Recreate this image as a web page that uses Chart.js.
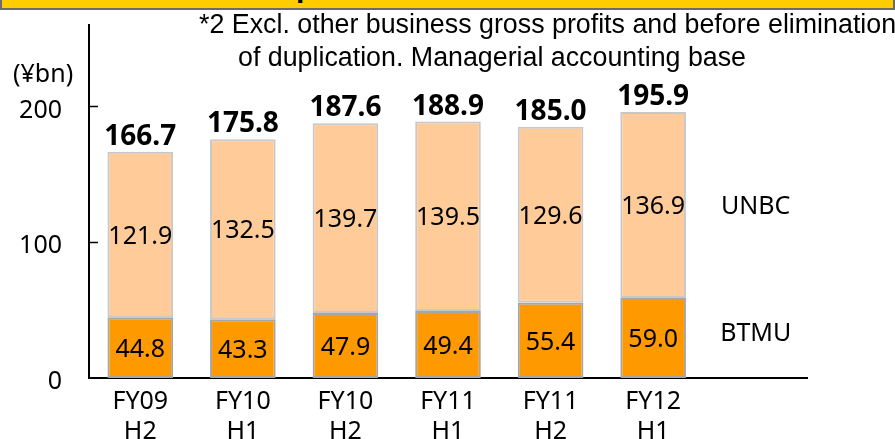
<!DOCTYPE html>
<html>
<head>
<meta charset="utf-8">
<script src="https://cdn.jsdelivr.net/npm/chart.js@4"></script>
<style>
    html, body { margin: 0; padding: 0; background: #fff; }
    #wrap { position: relative; width: 895px; height: 439px; overflow: hidden; }
    #header {
        position: absolute; left: 0; top: 0; width: 891px; height: 8px;
        background: #FFCC00; border: 2px solid #6b6b6b; border-top: none;
        overflow: hidden;
    }
    #header span {
        position: absolute; left: 294px; top: -28px;
        font: bold 30px "Liberation Sans", sans-serif; line-height: 30px; color: #000;
    }
    .note {
        position: absolute; font-family: "Liberation Sans", sans-serif; font-size: 26.8px;
        color: #000; white-space: nowrap; line-height: 32px;
    }
    #unit {
        position: absolute; left: 13px; top: 55px;
        font: 25px "Noto Sans", sans-serif; color: #000;
    }
</style>
</head>
<body>
<div id="wrap">
    <canvas id="chart" width="895" height="439"></canvas>
    <div id="header"><span>p</span></div>
    <div class="note" style="left:199px; top:8px;">*2 Excl. other business gross profits and before elimination</div>
    <div class="note" style="left:238px; top:41px;">of duplication. Managerial accounting base</div>
    <div id="unit">(¥bn)</div>
</div>
<script>
// data
const periods = [['FY09', 'H2'], ['FY10', 'H1'], ['FY10', 'H2'], ['FY11', 'H1'], ['FY11', 'H2'], ['FY12', 'H1'], ['']];
const btmu = [44.8, 43.3, 47.9, 49.4, 55.4, 59.0, null];
const unbc = [121.9, 132.5, 139.7, 139.5, 129.6, 136.9, null];
const totals = [166.7, 175.8, 187.6, 188.9, 185.0, 195.9];
const yTicks = [0, 100, 200];
const seriesNames = ['BTMU', 'UNBC'];

const FONT = '"Noto Sans", sans-serif';

// value labels, totals, series names and inward ticks
const labelPlugin = {
    id: 'labelPlugin',
    afterDatasetsDraw(chart) {
        const ctx = chart.ctx;
        const xScale = chart.scales.x;
        const yScale = chart.scales.y;
        ctx.save();
        ctx.fillStyle = '#000';
        ctx.textAlign = 'center';
        ctx.textBaseline = 'middle';
        ctx.font = '25px ' + FONT;
        chart.data.datasets.forEach((ds, i) => {
            const meta = chart.getDatasetMeta(i);
            meta.data.forEach((bar, j) => {
                if (ds.data[j] == null) return;
                ctx.fillText(ds.data[j].toFixed(1), bar.x, (bar.y + bar.base) / 2 + 2);
            });
        });

        // totals on top
        ctx.font = 'bold 28px ' + FONT;
        ctx.textBaseline = 'alphabetic';
        const topMeta = chart.getDatasetMeta(1);
        totals.forEach((t, j) => {
            const bar = topMeta.data[j];
            ctx.fillText(t.toFixed(1), bar.x, bar.y - 7);
        });

        // series names at the empty last category
        ctx.font = '25px ' + FONT;
        ctx.textBaseline = 'middle';
        const last = totals.length - 1;
        const nameX = xScale.getPixelForValue(periods.length - 1);
        const midBtmu = yScale.getPixelForValue(btmu[last] / 2);
        const midUnbc = yScale.getPixelForValue(btmu[last] + unbc[last] / 2);
        ctx.fillText(seriesNames[1], nameX, midUnbc + 2);
        ctx.fillText(seriesNames[0], nameX, midBtmu - 4);

        // short ticks pointing into the plot
        ctx.strokeStyle = '#000';
        ctx.lineWidth = 1.5;
        yTicks.forEach(v => {
            if (v === 0) return;
            const y = Math.round(yScale.getPixelForValue(v)) + 0.5;
            ctx.beginPath();
            ctx.moveTo(chart.chartArea.left, y);
            ctx.lineTo(chart.chartArea.left + 9, y);
            ctx.stroke();
        });
        ctx.restore();
    }
};

new Chart(document.getElementById('chart'), {
    type: 'bar',
    data: {
        labels: periods,
        datasets: [{
            label: seriesNames[0],
            data: btmu,
            backgroundColor: '#FF9900',
            borderColor: '#A6A6A6',
            borderWidth: 2,
            borderSkipped: false
        }, {
            label: seriesNames[1],
            data: unbc,
            backgroundColor: '#FFCC99',
            borderColor: '#C8C8C8',
            borderWidth: 2,
            borderSkipped: false
        }]
    },
    options: {
        responsive: false,
        animation: false,
        events: [],
        datasets: {
            bar: { categoryPercentage: 1, barPercentage: 0.64 }
        },
        layout: { padding: { left: 0, right: 88, top: 25, bottom: 0 } },
        plugins: {
            legend: { display: false },
            tooltip: { enabled: false }
        },
        scales: {
            x: {
                stacked: true,
                grid: { display: false, drawTicks: false },
                border: { display: true, color: '#000', width: 2 },
                ticks: {
                    color: '#000',
                    padding: 9,
                    maxRotation: 0,
                    autoSkip: false,
                    font: { family: FONT, size: 25, lineHeight: 1.2 }
                },
                afterFit(scale) {
                    scale.height = 61;
                    scale.paddingLeft = 0;
                    scale.paddingRight = 0;
                }
            },
            y: {
                stacked: true,
                min: 0,
                max: 260,
                grid: { display: false, drawTicks: false },
                border: { display: true, color: '#000', width: 2 },
                afterBuildTicks(scale) { scale.ticks = yTicks.map(v => ({ value: v })); },
                ticks: {
                    color: '#000',
                    padding: 27,
                    labelOffset: 4,
                    font: { family: FONT, size: 25 }
                },
                afterFit(scale) {
                    scale.width = 89;
                    scale.paddingTop = 0;
                    scale.paddingBottom = 0;
                }
            }
        }
    },
    plugins: [labelPlugin]
});
</script>
</body>
</html>
